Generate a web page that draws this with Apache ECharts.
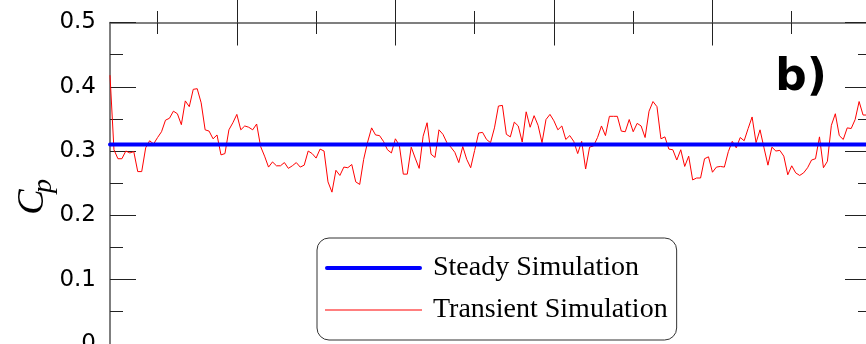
<!DOCTYPE html>
<html>
<head>
<meta charset="utf-8">
<script src="https://cdn.jsdelivr.net/npm/echarts@6/dist/echarts.min.js"></script>
<style>
  html, body { margin: 0; padding: 0; background: #fff; }
  #chart { width: 866px; height: 344px; }
</style>
</head>
<body>
<div id="chart"></div>
<script>
// Time axis window (flow-through times) and tick positions
const timeRange = [0.2, 5];
const majorTimeTicks = [1, 2, 3, 4, 5];
const minorTimeTicks = [0.5, 1.5, 2.5, 3.5, 4.5];

// Power coefficient axis
const cpRange = [0, 0.5];
const cpStep = 0.1;

// Steady-state result
const cpSteady = 0.31;

// Transient result, one value per saved time step
const cpTransient = [
  0.418, 0.302, 0.288, 0.288, 0.300, 0.297, 0.299, 0.268, 0.268, 0.305,
  0.316, 0.311, 0.321, 0.330, 0.348, 0.351, 0.362, 0.358, 0.341, 0.378,
  0.369, 0.396, 0.397, 0.375, 0.333, 0.331, 0.319, 0.325, 0.294, 0.296,
  0.333, 0.344, 0.357, 0.333, 0.339, 0.337, 0.333, 0.342, 0.307, 0.292,
  0.275, 0.283, 0.277, 0.277, 0.282, 0.273, 0.277, 0.282, 0.275, 0.278,
  0.300, 0.296, 0.289, 0.303, 0.300, 0.252, 0.236, 0.270, 0.262, 0.275,
  0.274, 0.279, 0.252, 0.248, 0.287, 0.314, 0.336, 0.325, 0.324, 0.315,
  0.302, 0.297, 0.319, 0.309, 0.264, 0.264, 0.306, 0.289, 0.273, 0.323,
  0.344, 0.295, 0.290, 0.333, 0.326, 0.313, 0.306, 0.298, 0.282, 0.307,
  0.287, 0.274, 0.301, 0.328, 0.329, 0.318, 0.313, 0.336, 0.370, 0.371,
  0.326, 0.322, 0.345, 0.339, 0.314, 0.361, 0.337, 0.355, 0.340, 0.313,
  0.349, 0.357, 0.347, 0.333, 0.339, 0.318, 0.324, 0.315, 0.296, 0.315,
  0.272, 0.306, 0.308, 0.321, 0.339, 0.324, 0.354, 0.354, 0.354, 0.331,
  0.330, 0.349, 0.330, 0.343, 0.339, 0.321, 0.362, 0.377, 0.369, 0.319,
  0.322, 0.303, 0.302, 0.286, 0.302, 0.276, 0.292, 0.255, 0.258, 0.258,
  0.288, 0.291, 0.267, 0.275, 0.276, 0.275, 0.299, 0.315, 0.305, 0.321,
  0.316, 0.335, 0.353, 0.313, 0.333, 0.305, 0.278, 0.306, 0.300, 0.301,
  0.292, 0.263, 0.277, 0.266, 0.262, 0.266, 0.274, 0.286, 0.288, 0.322,
  0.274, 0.284, 0.340, 0.358, 0.324, 0.318, 0.336, 0.335, 0.349, 0.377,
  0.356, 0.356, 0.362
];
const stepLabels = cpTransient.map((_, i) => String(i + 1));

const seriesNames = ['Steady Simulation', 'Transient Simulation'];

const tickColor = '#222';
const lineColor = '#555';

function timeAxis(values, len, inside, withLine) {
  return {
    type: 'value', position: 'top', gridIndex: 0,
    min: timeRange[0], max: timeRange[1],
    axisLine: { show: withLine, onZero: false, lineStyle: { color: lineColor, width: 1.5 } },
    axisTick: { show: true, inside: inside, length: len, customValues: values,
                lineStyle: { color: tickColor, width: 1 } },
    axisLabel: { show: false },
    splitLine: { show: false }
  };
}

function cpAxis(pos, showLabels) {
  return {
    type: 'value', position: pos,
    min: cpRange[0], max: cpRange[1], interval: cpStep,
    axisLine: { show: true, onZero: false, lineStyle: { color: lineColor, width: 1.5 } },
    axisTick: { show: true, inside: true, length: 26, lineStyle: { color: tickColor, width: 1 } },
    minorTick: { show: true, splitNumber: 2, length: 13, lineStyle: { color: tickColor, width: 1 } },
    axisLabel: { show: showLabels, margin: 14, color: '#000', fontSize: 23, fontFamily: 'DejaVu Sans' },
    splitLine: { show: false }
  };
}

const chart = echarts.init(document.getElementById('chart'), null, { renderer: 'canvas' });

chart.setOption({
  animation: false,
  backgroundColor: '#fff',
  grid: { left: 110, top: 22.5, width: 761, height: 321.3, containLabel: false, outerBoundsMode: 'none' },
  xAxis: [
    timeAxis(majorTimeTicks, 23, true, true),
    timeAxis(majorTimeTicks, 23, false, false),
    timeAxis(minorTimeTicks, 11.5, true, false),
    timeAxis(minorTimeTicks, 11.5, false, false),
    { type: 'category', show: false, position: 'bottom', boundaryGap: false, data: stepLabels,
      axisLine: { onZero: false } }
  ],
  yAxis: [cpAxis('left', true), cpAxis('right', false)],
  legend: {
    orient: 'vertical', left: 317, top: 238,
    padding: [16, 9, 16, 8], itemGap: 14,
    itemWidth: 97, itemHeight: 14,
    backgroundColor: '#fff', borderColor: '#333', borderWidth: 1, borderRadius: 12,
    selectedMode: false,
    itemStyle: { borderWidth: 0 },
    textStyle: { fontFamily: 'Liberation Serif', fontSize: 28, color: '#000', padding: [0, 0, 0, 6] },
    data: [
      { name: seriesNames[0], icon: 'path://M2,0 L98,0 A2,2 0 0 1 98,4 L2,4 A2,2 0 0 1 2,0 Z' },
      { name: seriesNames[1], icon: 'path://M0,0 L100,0 L100,1 L0,1 Z' }
    ]
  },
  graphic: [
    { type: 'text', x: 801, y: 79, z: 10,
      style: { text: 'b)', font: 'bold 44px "DejaVu Sans"', fill: '#000', align: 'center', verticalAlign: 'middle' } },
    { type: 'text', x: 33, y: 202, rotation: Math.PI / 2, z: 10,
      style: { text: 'C', font: 'italic 38px "Liberation Serif"', fill: '#000', align: 'center', verticalAlign: 'middle' } },
    { type: 'text', x: 44, y: 186, rotation: Math.PI / 2, z: 10,
      style: { text: 'p', font: 'italic 28px "Liberation Serif"', fill: '#000', align: 'center', verticalAlign: 'middle' } }
  ],
  series: [
    {
      name: seriesNames[0], type: 'line', xAxisIndex: 0, yAxisIndex: 0,
      data: [[timeRange[0], cpSteady], [timeRange[1], cpSteady]],
      showSymbol: false, z: 5,
      lineStyle: { color: '#0000ff', width: 4, cap: 'round' },
      itemStyle: { color: '#0000ff' }
    },
    {
      name: seriesNames[1], type: 'line', xAxisIndex: 4, yAxisIndex: 0,
      data: cpTransient,
      showSymbol: false, z: 3,
      lineStyle: { color: '#ff0000', width: 1 },
      itemStyle: { color: '#ff0000' }
    }
  ]
});
</script>
</body>
</html>
